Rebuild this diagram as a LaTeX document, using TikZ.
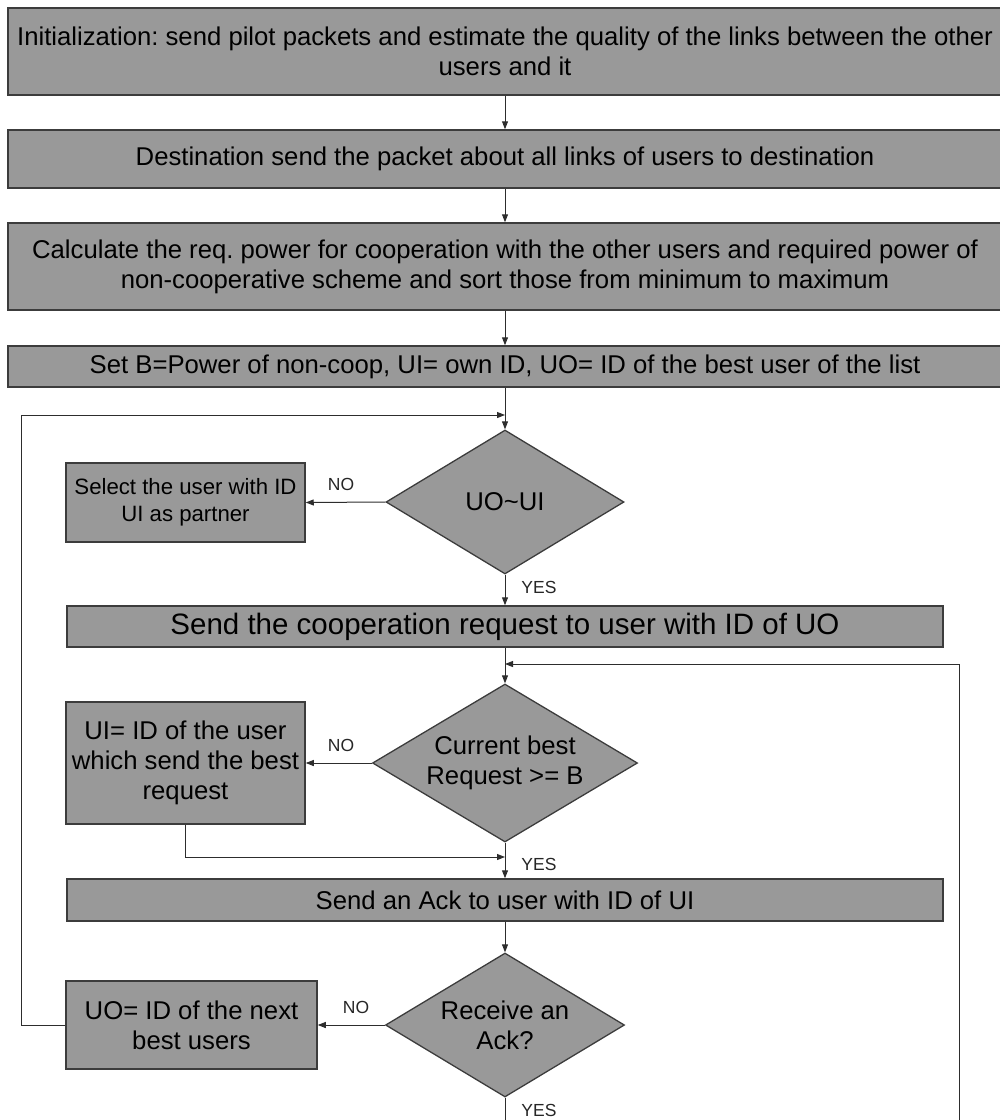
\documentclass[tikz,border=0pt]{standalone}
\usepackage{fontspec}
\setmainfont{Liberation Sans}
\usetikzlibrary{shapes.geometric,arrows.meta}
\definecolor{boxfill}{RGB}{153,153,153}
\definecolor{boxline}{RGB}{60,60,60}
\definecolor{flowline}{RGB}{45,45,45}
\frenchspacing

\begin{document}
\begin{tikzpicture}[x=1pt, y=-1pt,
	stepbox/.style={rectangle, draw=boxline, fill=boxfill, line width=1.5pt, inner sep=0pt, align=center, font=\fontsize{25.7}{30}\selectfont},
	testbox/.style={diamond, draw=boxline, fill=boxfill, line width=1.3pt, inner sep=0pt, aspect=1.65, align=center, font=\fontsize{25.7}{30}\selectfont},
	flow/.style={draw=flowline, line width=1pt, -{Triangle[length=8pt,width=6pt]}},
	answer/.style={font=\fontsize{17.5}{21}\selectfont, text=black!85}]
	\useasboundingbox (0,0) rectangle (1000,1120);

	% main column
	\node[stepbox, minimum width=994pt, minimum height=87pt] (init)  at (505,51.5) {Initialization: send pilot packets and estimate the quality of the links between the other\\users and it};
	\node[stepbox, minimum width=994pt, minimum height=58pt] (dest)  at (505,159)  {Destination send the packet about all links of users to destination};
	\node[stepbox, minimum width=994pt, minimum height=87pt] (calc)  at (505,266.5) {Calculate the req. power for cooperation with the other users and required power of\\non-cooperative scheme and sort those from minimum to maximum};
	\node[stepbox, minimum width=994pt, minimum height=41pt] (setb)  at (505,366.5) {Set B=Power of non-coop, UI= own ID, UO= ID of the best user of the list};
	\node[testbox, minimum width=238pt, minimum height=144pt] (uoui) at (505,502)  {UO\textasciitilde UI};
	\node[stepbox, minimum width=876pt, minimum height=41pt, font=\fontsize{29.5}{34}\selectfont] (sendreq) at (505,626.5) {Send the cooperation request to user with ID of UO};
	\node[testbox, minimum width=265pt, minimum height=158pt] (best) at (505,763)  {Current best\\Request >= B};
	\node[stepbox, minimum width=876pt, minimum height=42pt] (sendack) at (505,900) {Send an Ack to user with ID of UI};
	\node[testbox, minimum width=239pt, minimum height=144pt] (ack)  at (505,1025) {Receive an\\Ack?};

	% side boxes
	\node[stepbox, minimum width=239pt, minimum height=79pt, font=\fontsize{22.2}{27}\selectfont] (partner) at (185.5,502.5) {Select the user with ID\\UI as partner};
	\node[stepbox, minimum width=239pt, minimum height=122pt] (bestreq) at (185.5,763) {UI= ID of the user\\which send the best\\request};
	\node[stepbox, minimum width=251pt, minimum height=88pt]  (nextuo)  at (191.5,1025) {UO= ID of the next\\best users};

	% labels
	\node[answer] (no1)  at (341,484)  {NO};
	\node[answer] (no2)  at (341,745)  {NO};
	\node[answer] (no3)  at (356,1007) {NO};
	\node[answer] (yes1) at (539,587)  {YES};
	\node[answer] (yes2) at (539,864)  {YES};
	\node[answer] (yes3) at (539,1110) {YES};

	% joints
	\coordinate (loopL) at (21,415);
	\coordinate (join1) at (505,415);
	\coordinate (join2) at (505,664);
	\coordinate (join3) at (505,857);
	\coordinate (loopR) at (959,1125);
	\coordinate (downC) at (505,1125);

	\draw [flow] (init.south)    -- (dest.north);
	\draw [flow] (dest.south)    -- (calc.north);
	\draw [flow] (calc.south)    -- (setb.north);
	\draw [flow] (setb.south)    -- (uoui.north);
	\draw [flow] (uoui.west)     -- (partner.east);
	\draw [flow] (uoui.south)    -- (sendreq.north);
	\draw [flow] (sendreq.south) -- (best.north);
	\draw [flow] (best.west)     -- (bestreq.east);
	\draw [flow] (best.south)    -- (sendack.north);
	\draw [flow] (sendack.south) -- (ack.north);
	\draw [flow] (ack.west)      -- (nextuo.east);
	\draw [draw=flowline, line width=1pt] (ack.south) -- (downC);

	\draw [flow] (nextuo.west) -| (loopL) -- (join1);
	\draw [flow] (loopR) |- (join2);
	\draw [flow] (bestreq.south) |- (join3);
\end{tikzpicture}
\end{document}
